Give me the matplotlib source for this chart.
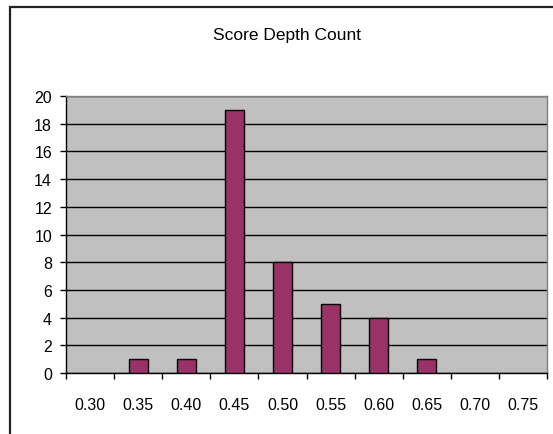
import matplotlib
matplotlib.use("Agg")
import matplotlib.pyplot as plt
from matplotlib.patches import Rectangle
import numpy as np

plt.rcParams['font.family'] = ['Liberation Sans', 'DejaVu Sans']

# histogram data
bins = ["0.30", "0.35", "0.40", "0.45", "0.50", "0.55", "0.60", "0.65", "0.70", "0.75"]
counts = [0, 1, 1, 19, 8, 5, 4, 1, 0, 0]
title = "Score Depth Count"

fig = plt.figure(figsize=(5.53, 4.35), dpi=100)
fig.patch.set_facecolor("white")

# outer chart border (cut off on right and bottom like the reference)
fig.patches.append(Rectangle((10 / 553, -0.1), 1.2, 1 - 8 / 435 + 0.1,
                             transform=fig.transFigure, fill=False,
                             edgecolor="#222222", linewidth=1.6))

ax = fig.add_axes([66 / 553, 1 - 374 / 435, (547 - 66) / 553, (374 - 97) / 435])
ax.set_facecolor("#C0C0C0")

x = np.arange(len(bins))
cnt = np.array(counts)
nz = cnt > 0  # empty bins draw nothing
ax.bar(x[nz], cnt[nz], width=0.4, color="#993366", edgecolor="black", linewidth=1.0, zorder=3)

ax.set_xlim(-0.5, len(bins) - 0.5)
ax.set_ylim(0, 20)
ax.set_yticks(range(0, 21, 2))
ax.yaxis.grid(True, color="black", linewidth=1.0, zorder=1)
ax.set_axisbelow(True)

# ticks at category boundaries, labels at centres
ax.set_xticks(np.arange(-0.5, len(bins), 1.0))
ax.set_xticklabels([])
ax.set_xticks(x, minor=True)
ax.set_xticklabels(bins, minor=True)
ax.tick_params(axis="x", which="major", direction="out", length=4, width=1, color="black")
ax.tick_params(axis="x", which="minor", length=0, pad=17, labelsize=11.5)
ax.tick_params(axis="y", direction="out", length=4, width=1, color="black", labelsize=11.5, pad=6)

for side in ["top", "right"]:
    ax.spines[side].set_color("#808080")
    ax.spines[side].set_linewidth(1.0)
for side in ["left", "bottom"]:
    ax.spines[side].set_color("black")
    ax.spines[side].set_linewidth(1.0)

fig.text(287 / 553, 1 - 36 / 435, title, ha="center", va="center", fontsize=12.5)

fig.savefig("out.png", dpi=100)
